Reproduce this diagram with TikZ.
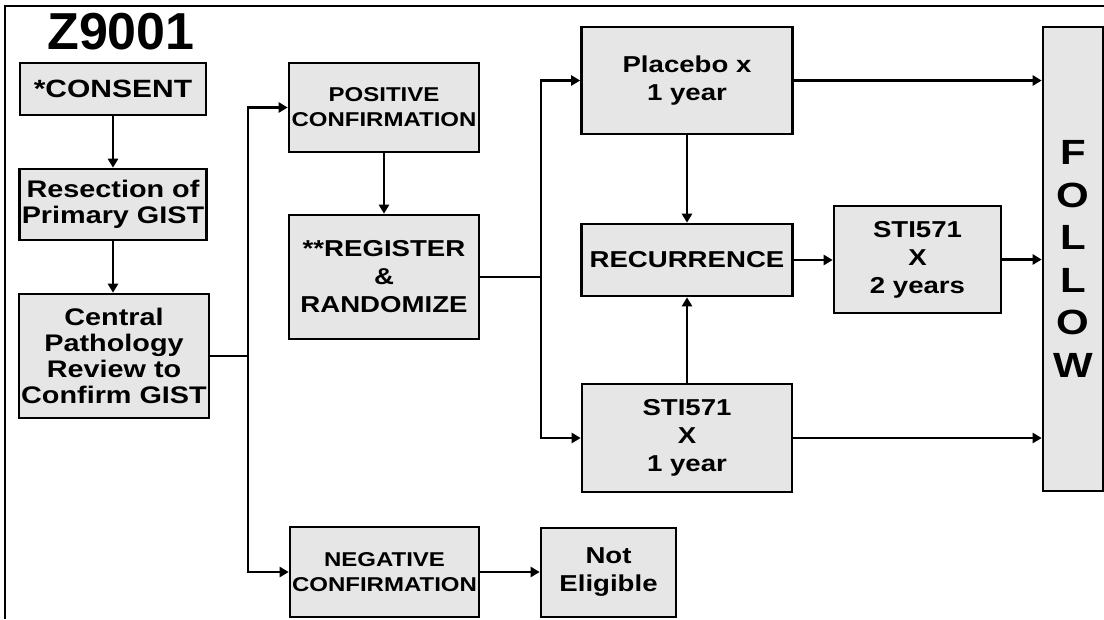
\documentclass[tikz,border=0pt]{standalone}
\usepackage{fontspec}
\setmainfont{Liberation Sans}[FakeStretch=1.2]
\newfontfamily\titlefont{Liberation Sans}
\usetikzlibrary{arrows.meta}
\definecolor{boxgray}{RGB}{230,230,230}
\begin{document}
\begin{tikzpicture}[x=1pt,y=-1pt,
  box/.style={draw=black, line width=2.6pt, fill=boxgray, inner sep=0pt, align=center},
  conn/.style={line width=2.4pt, draw=black},
  arr/.style={conn, -{Triangle[length=9pt,width=10pt]}},
  fa/.style={font=\fontsize{24}{26}\selectfont\bfseries},
  fb/.style={font=\fontsize{20}{25}\selectfont\bfseries},
  fc/.style={font=\fontsize{23}{28}\selectfont\bfseries},
]
\useasboundingbox (0,0) rectangle (1104,619);
\draw[line width=2.6pt] (5,619) -- (5,6) -- (1104,6);

\node[font=\fontsize{52}{60}\titlefont\bfseries] (title) at (121,32) {Z9001};

\node[box, font=\fontsize{25}{30}\selectfont\bfseries, minimum width=186pt, minimum height=52pt] (consent) at (113,89) {*CONSENT};
\node[box, fa, minimum width=187pt, minimum height=71pt] (resect) at (113,204.5) {Resection of\\Primary GIST};
\node[box, fa, minimum width=190pt, minimum height=124pt] (central) at (114,356) {Central\\Pathology\\Review to\\Confirm GIST};
\node[box, fb, minimum width=190pt, minimum height=89pt] (pos) at (384,107.5) {POSITIVE\\CONFIRMATION};
\node[box, fc, minimum width=190pt, minimum height=124pt] (reg) at (384,277) {**REGISTER\\\&\\RANDOMIZE};
\node[box, fb, minimum width=189pt, minimum height=90pt] (neg) at (384.5,572) {NEGATIVE\\CONFIRMATION};
\node[box, fc, minimum width=135pt, minimum height=89pt] (note) at (608.5,572.5) {Not\\Eligible};
\node[box, fc, minimum width=211pt, minimum height=107pt] (placebo) at (687,80.5) {Placebo x\\1 year};
\node[box, fc, minimum width=211pt, minimum height=72pt] (recur) at (687,260) {RECURRENCE};
\node[box, fc, minimum width=210pt, minimum height=108pt] (sti1) at (687,438) {STI571\\X\\1 year};
\node[box, fc, minimum width=167pt, minimum height=107pt] (sti2) at (917.5,259.5) {STI571\\X\\2 years};
\node[box, font=\fontsize{35}{42.5}\selectfont\bfseries, minimum width=60pt, minimum height=464pt] (follow) at (1073,259) {F\\O\\L\\L\\O\\W};

\coordinate (j1) at (248,356);
\coordinate (j2) at (541,277);

\draw[arr] (consent.south) -- (consent.south |- resect.north);
\draw[arr] (resect.south) -- (resect.south |- central.north);
\draw[conn] (central.east) -- (j1);
\draw[arr] (j1) |- (pos.west);
\draw[arr] (j1) |- (neg.west);
\draw[arr] (pos.south) -- (reg.north);
\draw[conn] (reg.east) -- (j2);
\draw[arr] (j2) |- (placebo.west);
\draw[arr] (j2) |- (sti1.west);
\draw[arr] (placebo.south) -- (recur.north);
\draw[arr] (sti1.north) -- (recur.south);
\draw[arr] (recur.east) -- (recur.east -| sti2.west);
\draw[arr] (placebo.east) -- (placebo.east -| follow.west);
\draw[arr] (sti2.east) -- (sti2.east -| follow.west);
\draw[arr] (sti1.east) -- (sti1.east -| follow.west);
\draw[arr] (neg.east) -- (neg.east -| note.west);
\end{tikzpicture}
\end{document}
